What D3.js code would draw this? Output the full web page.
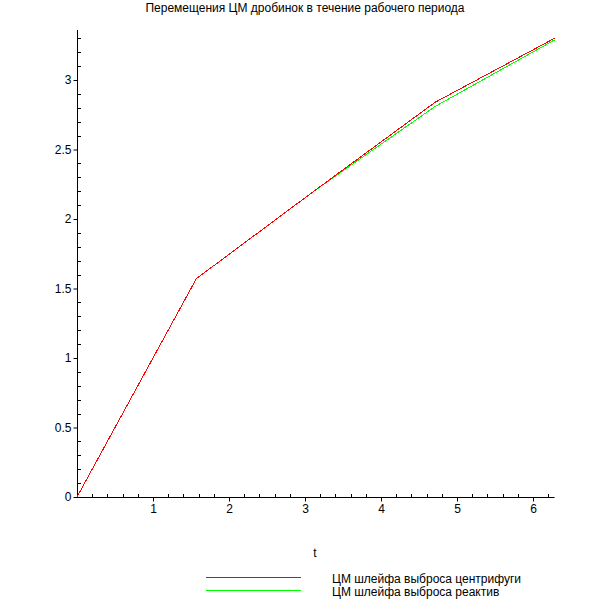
<!DOCTYPE html>
<html><head><meta charset="utf-8">
<script src="https://cdn.jsdelivr.net/npm/d3@7"></script>
<style>body{margin:0;background:#fff}svg{display:block}text{font-family:"Liberation Sans",Arial,sans-serif;font-size:12px;fill:#000}</style>
</head><body>
<script>
const title = "Перемещения ЦМ дробинок в течение рабочего периода";
const xLabel = "t";
const seriesNames = ["ЦМ шлейфа выброса центрифуги", "ЦМ шлейфа выброса реактив"];
const seriesColors = ["#ff0000", "#00ff00"];
const tValues = [0, Math.PI/2, Math.PI, 3*Math.PI/2, 2*Math.PI];
const redValues = [0, 1.571, 2.21, 2.84, 3.30];
const greenValues = [0, 1.571, 2.21, 2.81, 3.288];
const xTicks = [1, 2, 3, 4, 5, 6];
const yTicks = [0, 0.5, 1, 1.5, 2, 2.5, 3];

const W = 610, H = 610;
const svg = d3.select("body").append("svg").attr("width", W).attr("height", H);
const x = d3.scaleLinear().domain([0, 2*Math.PI]).range([77, 77 + 2*Math.PI*76]);
const y = d3.scaleLinear().domain([0, 3.36]).range([497, 497 - 3.36*139]);

svg.append("text").attr("x", 305).attr("y", 12).attr("text-anchor", "middle").text(title);

// minor ticks
const xMinor = d3.range(0.2, 2*Math.PI, 0.2).filter(v => Math.abs(v - Math.round(v)) > 1e-6);
svg.append("g").selectAll("line").data(xMinor).join("line")
  .attr("x1", d => Math.round(x(d)) + 0.5).attr("x2", d => Math.round(x(d)) + 0.5)
  .attr("y1", 494).attr("y2", 497).attr("stroke", "#000");
const yMinor = d3.range(0.1, 3.36, 0.1).filter(v => Math.abs(v*2 - Math.round(v*2)) > 1e-6);
svg.append("g").selectAll("line").data(yMinor).join("line")
  .attr("y1", d => Math.round(y(d)) + 0.5).attr("y2", d => Math.round(y(d)) + 0.5)
  .attr("x1", 78).attr("x2", 81).attr("stroke", "#000");

// axes
const xAxis = d3.axisBottom(x).tickValues(xTicks).tickSize(4).tickPadding(3).tickFormat(d3.format("d"));
const gx = svg.append("g").attr("transform", "translate(0,497.5)").call(xAxis);
gx.select(".domain").attr("d", `M${x(0)},0H${x(2*Math.PI)}`);
const yAxis = d3.axisLeft(y).tickValues(yTicks).tickSize(4).tickPadding(2).tickFormat(d => d);
const gy = svg.append("g").attr("transform", "translate(77.5,0)").call(yAxis);
gy.select(".domain").attr("d", `M0,${y(0)}V${y(3.36)}`);
svg.selectAll(".tick text").style("font-family", '"Liberation Sans",Arial,sans-serif').style("font-size", "12px");

svg.append("text").attr("x", 315).attr("y", 557).attr("text-anchor", "middle").text(xLabel);

// lines
const line = d3.line().x((d, i) => x(tValues[i])).y(d => y(d));
[greenValues, redValues].forEach((vals, k) => {
  svg.append("path").attr("d", line(vals)).attr("fill", "none")
    .attr("shape-rendering", "crispEdges")
    .attr("stroke", k === 0 ? seriesColors[1] : seriesColors[0]).attr("stroke-width", 1);
});

// legend
seriesNames.forEach((name, i) => {
  const ly = 577.5 + i*13;
  svg.append("line").attr("x1", 206).attr("x2", 301).attr("y1", ly).attr("y2", ly).attr("stroke", seriesColors[i]);
  svg.append("text").attr("x", 332).attr("y", 583 + i*13).text(name);
});
</script>
</body></html>
